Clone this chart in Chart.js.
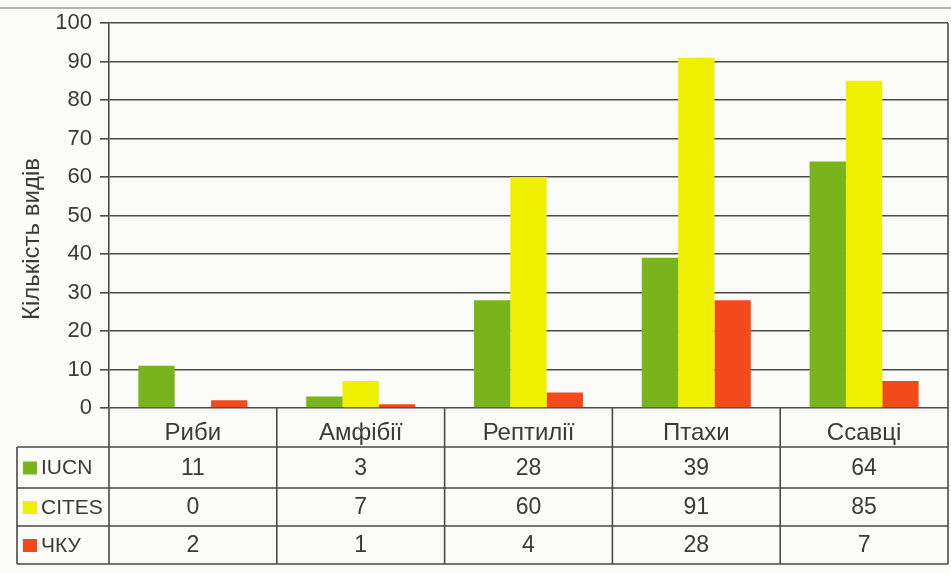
<!DOCTYPE html>
<html>
<head>
<meta charset="utf-8">
<script src="https://cdn.jsdelivr.net/npm/chart.js@4/dist/chart.umd.min.js"></script>
<style>
  html, body { margin: 0; padding: 0; background: #fbfbf9; }
  #wrap { width: 951px; height: 573px; position: relative; }
</style>
</head>
<body>
<div id="wrap"><canvas id="barChart"></canvas></div>
<script>
// data (and its table)
var categories = ['Риби', 'Амфібії', 'Рептилії', 'Птахи', 'Ссавці']
var seriesNames = ['IUCN', 'CITES', 'ЧКУ']
var iucn  = [11, 3, 28, 39, 64]
var cites = [0, 7, 60, 91, 85]
var chku  = [2, 1, 4, 28, 7]
var yTicks = [0, 10, 20, 30, 40, 50, 60, 70, 80, 90, 100]
var yTitle = 'Кількість видів'

var colors = ['#79b41c', '#eef000', '#f24a1a']
var ink = '#3a3a3a'
var lineCol = '#4a4a4a'
var fam = '"Liberation Sans", Arial, sans-serif'

// draws the data table under the plot, columns taken from the x scale
var tablePlugin = {
  id: 'dataTable',
  afterDraw: function (chart) {
    var ctx = chart.ctx
    var x = chart.scales.x
    var area = chart.chartArea
    var rows = [iucn, cites, chku]
    var colW = (area.right - area.left) / categories.length
    var tableLeft = 17
    var rowTops = [447, 488, 526]
    var bottom = 564

    ctx.save()
    // faint page edge line at top of scan
    ctx.strokeStyle = '#9a9a9a'
    ctx.lineWidth = 1.5
    ctx.beginPath()
    ctx.moveTo(0, 8); ctx.lineTo(951, 8)
    ctx.stroke()

    // y axis title (sits a bit below the axis middle in the original)
    ctx.save()
    ctx.translate(32, 239)
    ctx.rotate(-Math.PI / 2)
    ctx.fillStyle = ink
    ctx.font = '24px ' + fam
    ctx.textAlign = 'center'
    ctx.textBaseline = 'middle'
    ctx.fillText(yTitle, 0, 0)
    ctx.restore()

    ctx.strokeStyle = lineCol
    ctx.lineWidth = 1.6
    ctx.beginPath()
    // right border of plot
    ctx.moveTo(area.right, area.top); ctx.lineTo(area.right, bottom)
    // column separators through header + rows
    for (var i = 0; i <= categories.length; i++) {
      var cx = x.getPixelForValue(i) - colW / 2
      ctx.moveTo(cx, area.bottom); ctx.lineTo(cx, bottom)
    }
    // left edge of table
    ctx.moveTo(tableLeft, rowTops[0]); ctx.lineTo(tableLeft, bottom)
    // horizontal lines
    rowTops.concat([bottom]).forEach(function (y) {
      ctx.moveTo(tableLeft, y); ctx.lineTo(area.right, y)
    })
    ctx.stroke()

    ctx.textBaseline = 'middle'
    for (var r = 0; r < rows.length; r++) {
      var top = rowTops[r]
      var next = r + 1 < rowTops.length ? rowTops[r + 1] : bottom
      var cy = (top + next) / 2
      // legend key
      ctx.fillStyle = colors[r]
      ctx.fillRect(23, cy - 6, 14, 13)
      ctx.fillStyle = ink
      ctx.font = '21px ' + fam
      ctx.textAlign = 'left'
      ctx.fillText(seriesNames[r], 41, cy + 1)
      // values
      ctx.font = '23px ' + fam
      ctx.textAlign = 'center'
      for (var c = 0; c < categories.length; c++) {
        ctx.fillText(String(rows[r][c]), x.getPixelForValue(c), cy + 1)
      }
    }
    ctx.restore()
  }
}

var barChartData = {
  labels: categories,
  datasets: [
    { label: seriesNames[0], data: iucn,  backgroundColor: colors[0] },
    { label: seriesNames[1], data: cites, backgroundColor: colors[1] },
    { label: seriesNames[2], data: chku,  backgroundColor: colors[2] }
  ]
}

var barChartOptions = {
  responsive: true,
  maintainAspectRatio: false,
  animation: false,
  layout: { padding: { top: 23, right: 3, left: 0, bottom: 0 } },
  datasets: { bar: { barPercentage: 1, categoryPercentage: 0.65 } },
  plugins: { legend: { display: false }, tooltip: { enabled: false } },
  scales: {
    x: {
      grid: { display: false, drawTicks: false },
      border: { display: false },
      ticks: {
        color: ink,
        padding: 11,
        font: { family: fam, size: 24 }
      },
      afterFit: function (scale) { scale.height = 573 - 408 }
    },
    y: {
      min: 0,
      max: 100,
      afterBuildTicks: function (scale) {
        scale.ticks = yTicks.map(function (v) { return { value: v } })
      },
      grid: { color: lineCol, lineWidth: 1.6, tickLength: 9 },
      border: { color: lineCol, width: 1.6 },
      ticks: {
        color: ink,
        padding: 8,
        font: { family: fam, size: 22 }
      },
      afterFit: function (scale) { scale.width = 109 }
    }
  }
}

var barChartCanvas = document.getElementById('barChart').getContext('2d')
var barChart = new Chart(barChartCanvas, {
  type: 'bar',
  data: barChartData,
  options: barChartOptions,
  plugins: [tablePlugin]
})
</script>
</body>
</html>
